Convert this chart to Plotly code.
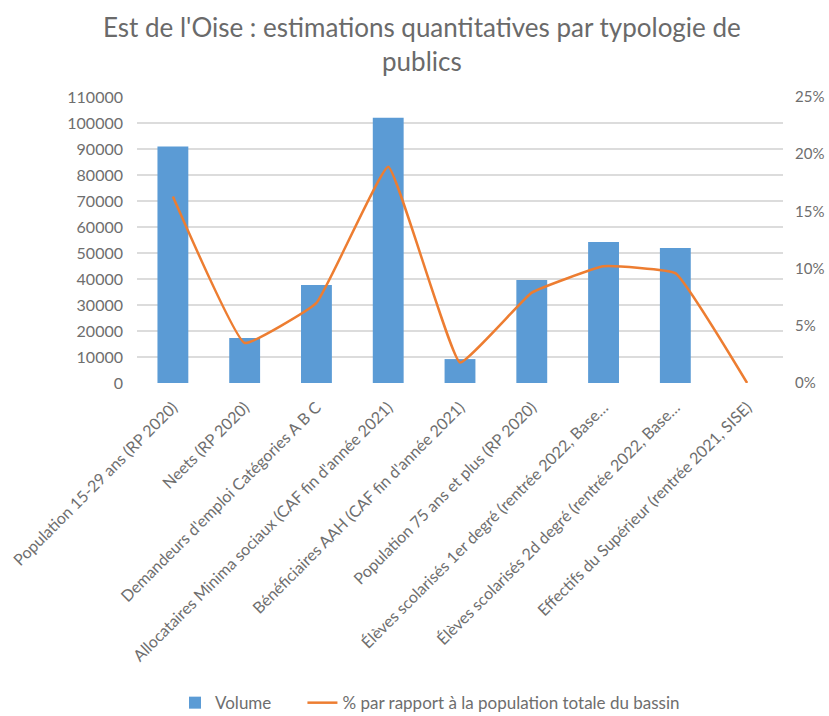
import plotly.graph_objects as go

# Publics de l'Est de l'Oise
categories = [
    "Population 15-29 ans (RP 2020)",
    "Neets (RP 2020)",
    "Demandeurs d'emploi Catégories A B C",
    "Allocataires Minima sociaux (CAF fin d'année 2021)",
    "Bénéficiaires AAH (CAF fin d'année 2021)",
    "Population 75 ans et plus (RP 2020)",
    "Élèves scolarisés 1er degré (rentrée 2022, Base…",
    "Élèves scolarisés 2d degré (rentrée 2022, Base…",
    "Effectifs du Supérieur (rentrée 2021, SISE)",
]
volume = [91000, 17300, 37700, 102000, 9200, 39600, 54200, 51900, 0]
part_population = [0.163, 0.035, 0.070, 0.189, 0.018, 0.079, 0.102, 0.096, 0.0]

left_ticks = list(range(0, 110001, 10000))
right_ticks = [0, 0.05, 0.10, 0.15, 0.20, 0.25]

BLUE = "#5B9BD5"
ORANGE = "#ED7D31"
TEXT = "#6e6e6e"
FONT = "Lato"
NBSP = "\u00a0"

fig = go.Figure()
fig.add_trace(go.Bar(
    x=categories, y=volume, name="Volume" + NBSP * 6,
    marker=dict(color=BLUE, line=dict(width=0)),
    yaxis="y",
))
fig.add_trace(go.Scatter(
    x=categories, y=part_population,
    name="% par rapport à la population totale du bassin",
    mode="lines", line=dict(color=ORANGE, width=2.5, shape="spline", smoothing=0.3),
    yaxis="y2",
))

fig.update_layout(
    width=829, height=716,
    margin=dict(l=137, r=46, t=97, b=333, autoexpand=False),
    paper_bgcolor="white", plot_bgcolor="white",
    font=dict(family=FONT, color=TEXT, size=16),
    title=dict(
        text="Est de l'Oise : estimations quantitatives par typologie de<br>publics",
        x=0.441, xanchor="center", xref="paper",
        yref="container", y=0.948, yanchor="middle",
        font=dict(family=FONT, size=26, color="#6a6a6a"),
    ),
    bargap=0.57,
    showlegend=True,
    legend=dict(
        orientation="h", xref="container", x=175 / 829, xanchor="left",
        yref="container", y=0.018, yanchor="middle",
        font=dict(size=17, color=TEXT), tracegroupgap=0,
    ),
    xaxis=dict(
        tickangle=-45, showgrid=False, showline=False, ticks="",
        ticklabelstandoff=11,
        tickfont=dict(size=16, color=TEXT), automargin=False,
    ),
    yaxis=dict(
        range=[0, 110000], tickvals=left_ticks, ticktext=[str(v) for v in left_ticks],
        showgrid=True, gridcolor="#dcdcdc", gridwidth=1.5, zeroline=False,
        showline=False, ticks="", ticklabelstandoff=13, automargin=False,
        tickfont=dict(size=16, color=TEXT),
    ),
    yaxis2=dict(
        range=[0, 0.25], tickvals=right_ticks, tickformat=".0%",
        overlaying="y", side="right", showgrid=False, zeroline=False,
        showline=False, ticks="", ticklabelstandoff=11, automargin=False,
        tickfont=dict(size=15, color=TEXT),
    ),
)

fig.write_html("out.html")
